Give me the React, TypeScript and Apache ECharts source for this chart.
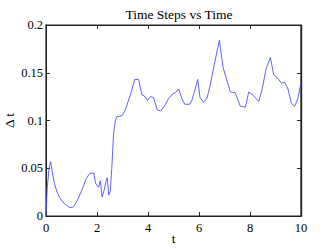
import React, { useEffect, useRef } from "react";
import * as echarts from "echarts";

const tValues = [
  0, 0.05, 0.12, 0.18, 0.25, 0.33, 0.42, 0.52, 0.62, 0.72, 0.82, 0.91, 1.04, 1.14,
  1.24, 1.34, 1.44, 1.57, 1.7, 1.8, 1.87, 1.95, 2.06, 2.13, 2.2, 2.28, 2.36, 2.4,
  2.46, 2.52, 2.58, 2.65, 2.72, 2.78, 2.98, 3.11, 3.31, 3.48, 3.63, 3.76, 3.89,
  3.98, 4.1, 4.22, 4.36, 4.49, 4.62, 4.81, 4.97, 5.07, 5.2, 5.33, 5.44, 5.64,
  5.72, 5.85, 5.95, 6.04, 6.18, 6.31, 6.44, 6.6, 6.8, 6.94, 7.07, 7.23, 7.42,
  7.62, 7.82, 7.95, 8.14, 8.34, 8.47, 8.63, 8.8, 8.93, 9.1, 9.23, 9.36, 9.49,
  9.62, 9.75, 9.88, 10,
];
const dtValues = [
  0, 0.03, 0.05, 0.057, 0.045, 0.034, 0.026, 0.02, 0.016, 0.013, 0.011, 0.009,
  0.009, 0.012, 0.017, 0.023, 0.029, 0.039, 0.044, 0.045, 0.045, 0.034, 0.03,
  0.037, 0.02, 0.027, 0.037, 0.04, 0.022, 0.026, 0.05, 0.086, 0.1, 0.104, 0.105,
  0.111, 0.127, 0.143, 0.143, 0.127, 0.125, 0.121, 0.125, 0.124, 0.111, 0.11,
  0.114, 0.123, 0.128, 0.129, 0.133, 0.123, 0.117, 0.117, 0.121, 0.133, 0.143,
  0.124, 0.119, 0.123, 0.137, 0.159, 0.184, 0.156, 0.144, 0.13, 0.129, 0.115,
  0.114, 0.13, 0.126, 0.12, 0.132, 0.154, 0.166, 0.148, 0.144, 0.139, 0.14,
  0.133, 0.118, 0.115, 0.123, 0.14,
];
const xTicks = [0, 2, 4, 6, 8, 10];
const yTicks = [0, 0.05, 0.1, 0.15, 0.2];
const xMax = 10;
const yMax = 0.2;

const FONT = "Liberation Serif";
const AXIS_COLOR = "#222";

const mkLine = (w: number) => ({ show: true, onZero: false, lineStyle: { color: AXIS_COLOR, width: w } });
const mkTick = () => ({ show: true, inside: true, length: 4, lineStyle: { color: AXIS_COLOR, width: 1 } });

export default function App() {
  const ref = useRef<HTMLDivElement>(null);
  useEffect(() => {
    if (!ref.current) return;
    const chart = echarts.init(ref.current, null, { renderer: "svg" });
    const points = tValues.map((t, i) => [t, dtValues[i]]);
    chart.setOption({
      animation: false,
      title: {
        text: "Time Steps vs Time",
        left: 174,
        textAlign: "center",
        top: 2,
        textStyle: { fontFamily: FONT, fontSize: 13.5, fontWeight: "normal", color: "#000" },
      },
      grid: {
        left: 46,
        right: 31,
        top: 25,
        bottom: 33,
        show: true,
        borderColor: AXIS_COLOR,
        borderWidth: 1.2,
        outerBoundsMode: "none",
      },
      xAxis: [
        {
          type: "value",
          min: 0,
          max: xMax,
          interval: 2,
          position: "bottom",
          name: "t",
          nameLocation: "middle",
          nameGap: 15,
          nameMoveOverlap: false,
          nameTextStyle: { fontFamily: FONT, fontSize: 13.5, color: "#000" },
          axisLine: mkLine(1),
          axisTick: mkTick(),
          splitLine: { show: false },
          axisLabel: {
            fontFamily: FONT,
            fontSize: 12.5,
            color: "#000",
            margin: 5,
            formatter: (v: number) => (xTicks.includes(v) ? String(v) : ""),
          },
        },
        {
          type: "value",
          min: 0,
          max: xMax,
          interval: 2,
          position: "top",
          axisLine: mkLine(1.2),
          axisTick: mkTick(),
          splitLine: { show: false },
          axisLabel: { show: false },
        },
      ],
      yAxis: [
        {
          type: "value",
          min: 0,
          max: yMax,
          interval: 0.05,
          position: "left",
          name: "Δ t",
          nameLocation: "middle",
          nameGap: 30,
          nameMoveOverlap: false,
          nameTextStyle: { fontFamily: FONT, fontSize: 13.5, color: "#000" },
          axisLine: mkLine(1),
          axisTick: mkTick(),
          splitLine: { show: false },
          axisLabel: {
            fontFamily: FONT,
            fontSize: 12.5,
            color: "#000",
            margin: 3,
            formatter: (v: number) => {
              const f = yTicks.find((y) => Math.abs(y - v) < 1e-9);
              return f === undefined ? "" : String(f);
            },
          },
        },
        {
          type: "value",
          min: 0,
          max: yMax,
          interval: 0.05,
          position: "right",
          axisLine: mkLine(1.2),
          axisTick: mkTick(),
          splitLine: { show: false },
          axisLabel: { show: false },
        },
      ],
      series: [
        {
          type: "line",
          data: points,
          showSymbol: false,
          symbol: "none",
          clip: false,
          lineStyle: { color: "#4f4fff", width: 0.9 },
          xAxisIndex: 0,
          yAxisIndex: 0,
          z: 3,
          markLine: {
            silent: true,
            symbol: ["none", "none"],
            label: { show: false },
            lineStyle: { color: AXIS_COLOR, width: 1.2, type: "solid" },
            data: [{ yAxis: yMax }, { xAxis: xMax }],
          },
        },
        {
          type: "line",
          data: points,
          showSymbol: false,
          symbol: "none",
          silent: true,
          lineStyle: { opacity: 0, width: 0 },
          xAxisIndex: 1,
          yAxisIndex: 1,
          z: 1,
        },
      ],
    });
    return () => chart.dispose();
  }, []);
  return <div ref={ref} style={{ width: 332, height: 249, position: "absolute", left: 0, top: 0 }} />;
}
